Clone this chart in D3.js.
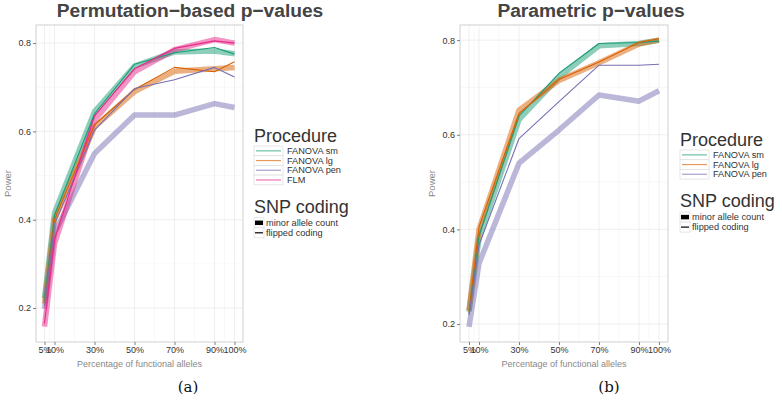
<!DOCTYPE html>
<html>
<head>
<meta charset="utf-8">
<script src="https://cdn.jsdelivr.net/npm/d3@7"></script>
<style>
  body { margin: 0; background: #fff; }
  svg { display: block; }
  text { font-family: "Liberation Sans", Arial, sans-serif; }
  text.tag { font-family: "DejaVu Serif", "Liberation Serif", serif; }
</style>
</head>
<body>
<div class="canvas"></div>
<script>
// x categories (percentage of functional alleles) and tick labels
const pcts = [5, 10, 30, 50, 70, 90, 100];
const pctLabels = ['5%', '10%', '30%', '50%', '70%', '90%', '100%'];
const powerTicks = [0.2, 0.4, 0.6, 0.8];
const powerMinor = [0.3, 0.5, 0.7];
const pctMinor = [7.5, 20, 40, 60, 80, 95];

const procedures = ['FANOVA sm', 'FANOVA lg', 'FANOVA pen', 'FLM'];
const codings = ['minor allele count', 'flipped coding'];

// (a) permutation-based p-values
const permSmMinor  = [0.222, 0.415, 0.645, 0.748, 0.780, 0.782, 0.776];
const permSmFlip   = [0.216, 0.410, 0.640, 0.752, 0.778, 0.790, 0.775];
const permLgMinor  = [0.210, 0.400, 0.610, 0.690, 0.736, 0.742, 0.745];
const permLgFlip   = [0.205, 0.400, 0.615, 0.695, 0.745, 0.735, 0.758];
const permPenMinor = [0.198, 0.370, 0.550, 0.637, 0.637, 0.663, 0.654];
const permPenFlip  = [0.205, 0.390, 0.603, 0.697, 0.717, 0.745, 0.723];
const permFlmMinor = [0.158, 0.345, 0.625, 0.735, 0.785, 0.808, 0.800];
const permFlmFlip  = [0.165, 0.355, 0.635, 0.742, 0.788, 0.805, 0.800];

// (b) parametric p-values
const parSmMinor  = [0.226, 0.380, 0.632, 0.722, 0.788, 0.793, 0.800];
const parSmFlip   = [0.222, 0.386, 0.640, 0.730, 0.793, 0.795, 0.798];
const parLgMinor  = [0.229, 0.400, 0.652, 0.715, 0.752, 0.792, 0.800];
const parLgFlip   = [0.225, 0.405, 0.645, 0.717, 0.754, 0.795, 0.803];
const parPenMinor = [0.194, 0.328, 0.540, 0.610, 0.684, 0.671, 0.693];
const parPenFlip  = [0.219, 0.367, 0.592, 0.670, 0.747, 0.747, 0.749];

const colour = d3.scaleOrdinal()
  .domain(procedures)
  .range(['#1b9e77', '#d95f02', '#7570b3', '#e7298a']);

const svg = d3.select('.canvas').append('svg')
  .attr('width', 782)
  .attr('height', 401);

const drawPanel = (p) => {
  const x = d3.scaleLinear().domain(p.xDomain).range([p.left, p.right]);
  const y = d3.scaleLinear().domain(p.yDomain).range([p.bottom, p.top]);
  const g = svg.append('g');

  // grid
  g.selectAll('.ymin').data(powerMinor).enter().append('line')
    .attr('x1', p.left).attr('x2', p.right)
    .attr('y1', d => y(d)).attr('y2', d => y(d))
    .attr('stroke', '#f4f4f4').attr('stroke-width', 0.6);
  g.selectAll('.xmin').data(pctMinor).enter().append('line')
    .attr('y1', p.top).attr('y2', p.bottom)
    .attr('x1', d => x(d)).attr('x2', d => x(d))
    .attr('stroke', '#f4f4f4').attr('stroke-width', 0.6);
  g.selectAll('.ymaj').data(powerTicks).enter().append('line')
    .attr('x1', p.left).attr('x2', p.right)
    .attr('y1', d => y(d)).attr('y2', d => y(d))
    .attr('stroke', '#ebebeb').attr('stroke-width', 0.8);
  g.selectAll('.xmaj').data(pcts).enter().append('line')
    .attr('y1', p.top).attr('y2', p.bottom)
    .attr('x1', d => x(d)).attr('x2', d => x(d))
    .attr('stroke', '#ebebeb').attr('stroke-width', 0.8);

  const line = d3.line()
    .x((d, i) => x(pcts[i]))
    .y(d => y(d));

  // thick translucent lines (minor allele count) first, thin ones on top
  p.series.filter(s => s.coding === codings[0]).forEach(s => {
    g.append('path')
      .attr('d', line(s.values))
      .attr('fill', 'none')
      .attr('stroke', colour(s.proc))
      .attr('stroke-opacity', 0.5)
      .attr('stroke-width', 5.5)
      .attr('stroke-linejoin', 'round');
  });
  p.series.filter(s => s.coding === codings[1]).forEach(s => {
    g.append('path')
      .attr('d', line(s.values))
      .attr('fill', 'none')
      .attr('stroke', colour(s.proc))
      .attr('stroke-width', 1.1)
      .attr('stroke-linejoin', 'round');
  });

  // panel border
  g.append('rect')
    .attr('x', p.left).attr('y', p.top)
    .attr('width', p.right - p.left).attr('height', p.bottom - p.top)
    .attr('fill', 'none').attr('stroke', '#d0d0d0').attr('stroke-width', 1);

  // axes
  const yAxis = g.append('g')
    .attr('transform', `translate(${p.left},0)`)
    .call(d3.axisLeft(y).tickValues(powerTicks).tickFormat(d3.format('.1f')).tickSize(3).tickPadding(2));
  const xAxis = g.append('g')
    .attr('transform', `translate(0,${p.bottom})`)
    .call(d3.axisBottom(x).tickValues(pcts).tickFormat((d, i) => pctLabels[i]).tickSize(3).tickPadding(2));
  [xAxis, yAxis].forEach(a => {
    a.select('.domain').remove();
    a.selectAll('line').attr('stroke', '#7f7f7f');
    a.selectAll('text').attr('font-size', 9).attr('fill', '#333');
  });

  // titles
  g.append('text')
    .attr('x', p.titleX).attr('y', 17)
    .attr('text-anchor', 'middle')
    .attr('font-size', 19.2).attr('font-weight', 'bold').attr('fill', '#444')
    .text(p.title);
  g.append('text')
    .attr('transform', `translate(${p.left - 25},${(p.top + p.bottom) / 2}) rotate(-90)`)
    .attr('text-anchor', 'middle')
    .attr('font-size', 9.5).attr('fill', '#888')
    .text('Power');
  g.append('text')
    .attr('x', (p.left + p.right) / 2).attr('y', 367)
    .attr('text-anchor', 'middle')
    .attr('font-size', 9).attr('fill', '#888')
    .text('Percentage of functional alleles');
  g.append('text')
    .attr('class', 'tag')
    .attr('x', p.tagX).attr('y', 392)
    .attr('text-anchor', 'middle')
    .attr('font-size', 15).attr('fill', '#111')
    .text(p.tag);

  // legend: procedure
  const lg = g.append('g').attr('transform', `translate(${p.legendX},${p.legendY})`);
  lg.append('text').attr('x', 0).attr('y', 0)
    .attr('font-size', 18).attr('fill', '#333').text('Procedure');
  const rowH = 9.7;
  p.procs.forEach((proc, i) => {
    const ty = 4 + i * rowH;
    lg.append('rect').attr('x', 0).attr('y', ty).attr('width', 29).attr('height', rowH)
      .attr('fill', '#fff').attr('stroke', '#e0e0e0').attr('stroke-width', 0.8);
    lg.append('line').attr('x1', 2).attr('x2', 27).attr('y1', ty + rowH / 2).attr('y2', ty + rowH / 2)
      .attr('stroke', colour(proc)).attr('stroke-opacity', 0.65).attr('stroke-width', 1.2);
    lg.append('text').attr('x', 33).attr('y', ty + 8)
      .attr('font-size', 9.2).attr('fill', '#333').text(proc);
  });

  // legend: SNP coding
  const sy = 4 + p.procs.length * rowH + 28;
  lg.append('text').attr('x', 0).attr('y', sy)
    .attr('font-size', 18).attr('fill', '#333').text('SNP coding');
  codings.forEach((c, i) => {
    const ty = sy + 5 + i * 10;
    lg.append('rect').attr('x', 0).attr('y', ty).attr('width', 10).attr('height', 10)
      .attr('fill', '#fff').attr('stroke', '#e0e0e0').attr('stroke-width', 0.8);
    lg.append('line').attr('x1', 1).attr('x2', 9).attr('y1', ty + 5).attr('y2', ty + 5)
      .attr('stroke', '#000').attr('stroke-width', i === 0 ? 4.5 : 1.2);
    lg.append('text').attr('x', 12).attr('y', ty + 8)
      .attr('font-size', 9.2).attr('fill', '#333').text(c);
  });
};

drawPanel({
  left: 36, right: 243, top: 25, bottom: 342,
  xDomain: [0.75, 104.25], yDomain: [0.123, 0.841],
  title: 'Permutation\u2212based p\u2212values', titleX: 190,
  tag: '(a)', tagX: 188,
  legendX: 254, legendY: 142,
  procs: procedures,
  series: [
    { proc: procedures[0], coding: codings[0], values: permSmMinor },
    { proc: procedures[1], coding: codings[0], values: permLgMinor },
    { proc: procedures[2], coding: codings[0], values: permPenMinor },
    { proc: procedures[3], coding: codings[0], values: permFlmMinor },
    { proc: procedures[0], coding: codings[1], values: permSmFlip },
    { proc: procedures[1], coding: codings[1], values: permLgFlip },
    { proc: procedures[2], coding: codings[1], values: permPenFlip },
    { proc: procedures[3], coding: codings[1], values: permFlmFlip }
  ]
});

drawPanel({
  left: 460, right: 668, top: 25, bottom: 342,
  xDomain: [0.5, 104.5], yDomain: [0.162, 0.832],
  title: 'Parametric p\u2212values', titleX: 591,
  tag: '(b)', tagX: 609,
  legendX: 680, legendY: 146,
  procs: procedures.slice(0, 3),
  series: [
    { proc: procedures[0], coding: codings[0], values: parSmMinor },
    { proc: procedures[1], coding: codings[0], values: parLgMinor },
    { proc: procedures[2], coding: codings[0], values: parPenMinor },
    { proc: procedures[0], coding: codings[1], values: parSmFlip },
    { proc: procedures[1], coding: codings[1], values: parLgFlip },
    { proc: procedures[2], coding: codings[1], values: parPenFlip }
  ]
});
</script>
</body>
</html>
